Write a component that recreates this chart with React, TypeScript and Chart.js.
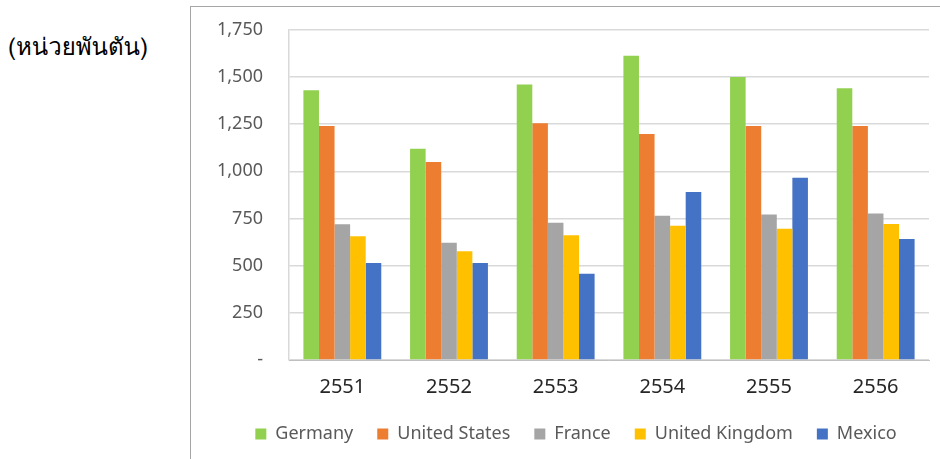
import React, { useEffect, useRef } from "react";
import { Chart, registerables } from "chart.js";

Chart.register(...registerables);

const years = ["2551", "2552", "2553", "2554", "2555", "2556"];
const germany = [1430, 1120, 1460, 1612, 1500, 1440];
const unitedStates = [1240, 1050, 1255, 1198, 1240, 1240];
const france = [720, 622, 727, 764, 771, 777];
const unitedKingdom = [656, 576, 661, 711, 695, 721];
const mexico = [514, 514, 457, 890, 966, 641];
const yTicks = [0, 250, 500, 750, 1000, 1250, 1500, 1750];

const FONT = "'Noto Sans', 'Open Sans', sans-serif";
const THAI_FONT =
  "Norasi, Kinnari, Garuda, Loma, 'TH Sarabun New', 'Noto Serif Thai', 'Noto Sans Thai', serif";

// Nudges the bottom legend a little to the right of the canvas centre.
const legendOffset = {
  id: "legendOffset",
  afterLayout(chart: any) {
    const lg = chart.legend;
    if (lg) {
      lg.left += 16;
      lg.right += 16;
    }
  },
};

export default function App() {
  const canvasRef = useRef<HTMLCanvasElement | null>(null);

  useEffect(() => {
    if (!canvasRef.current) return;
    const chart = new Chart(canvasRef.current, {
      type: "bar",
      data: {
        labels: years,
        datasets: [
          { label: "Germany", data: germany, backgroundColor: "#92D050" },
          { label: "United States", data: unitedStates, backgroundColor: "#ED7D31" },
          { label: "France", data: france, backgroundColor: "#A5A5A5" },
          { label: "United Kingdom", data: unitedKingdom, backgroundColor: "#FFC000" },
          { label: "Mexico", data: mexico, backgroundColor: "#4472C4" },
        ],
      },
      plugins: [legendOffset],
      options: {
        animation: false,
        responsive: false,
        devicePixelRatio: 1,
        datasets: { bar: { barPercentage: 1, categoryPercentage: 0.73 } },
        layout: { padding: { top: 0, right: 11, left: 0, bottom: 6 } },
        plugins: {
          tooltip: { enabled: false },
          legend: {
            position: "bottom",
            labels: {
              boxWidth: 11,
              boxHeight: 11,
              padding: 24,
              color: "#595959",
              font: { family: FONT, size: 18 },
            },
          },
        },
        scales: {
          x: {
            grid: { display: false },
            border: { color: "#BFBFBF", width: 1 },
            ticks: {
              color: "#262626",
              padding: 7,
              font: { family: FONT, size: 20 },
            },
            afterFit: (scale: any) => {
              scale.height = 41;
            },
          },
          y: {
            min: 0,
            max: 1750,
            afterBuildTicks: (scale: any) => {
              scale.ticks = yTicks.map((v) => ({ value: v }));
            },
            // tick marks are kept invisible; their length only spaces the labels off the axis
            grid: { color: "#D9D9D9", lineWidth: 1.5, drawTicks: true, tickLength: 14, tickColor: "rgba(0,0,0,0)" },
            border: { display: true, color: "#D9D9D9", width: 1.5 },
            ticks: {
              color: "#595959",
              padding: 12,
              font: { family: FONT, size: 18 },
              callback: (v: any) => (Number(v) === 0 ? "-" : Number(v).toLocaleString("en-US")),
            },
            afterFit: (scale: any) => {
              scale.width = 98;
            },
          },
        },
      },
    });
    return () => chart.destroy();
  }, []);

  return (
    <div>
      <div
        style={{
          position: "absolute",
          left: 8,
          top: 27,
          fontFamily: THAI_FONT,
          fontWeight: 400,
          fontSize: 24,
          color: "#000",
        }}
      >
        (หน่วยพันตัน)
      </div>
      <div
        style={{
          position: "absolute",
          left: 190,
          top: 6,
          width: 750,
          height: 453,
          borderLeft: "1px solid #A6A6A6",
          borderTop: "1px solid #A6A6A6",
          boxSizing: "border-box",
          background: "#fff",
        }}
      >
        <canvas ref={canvasRef} width={749} height={452} style={{ display: "block" }} />
      </div>
    </div>
  );
}
